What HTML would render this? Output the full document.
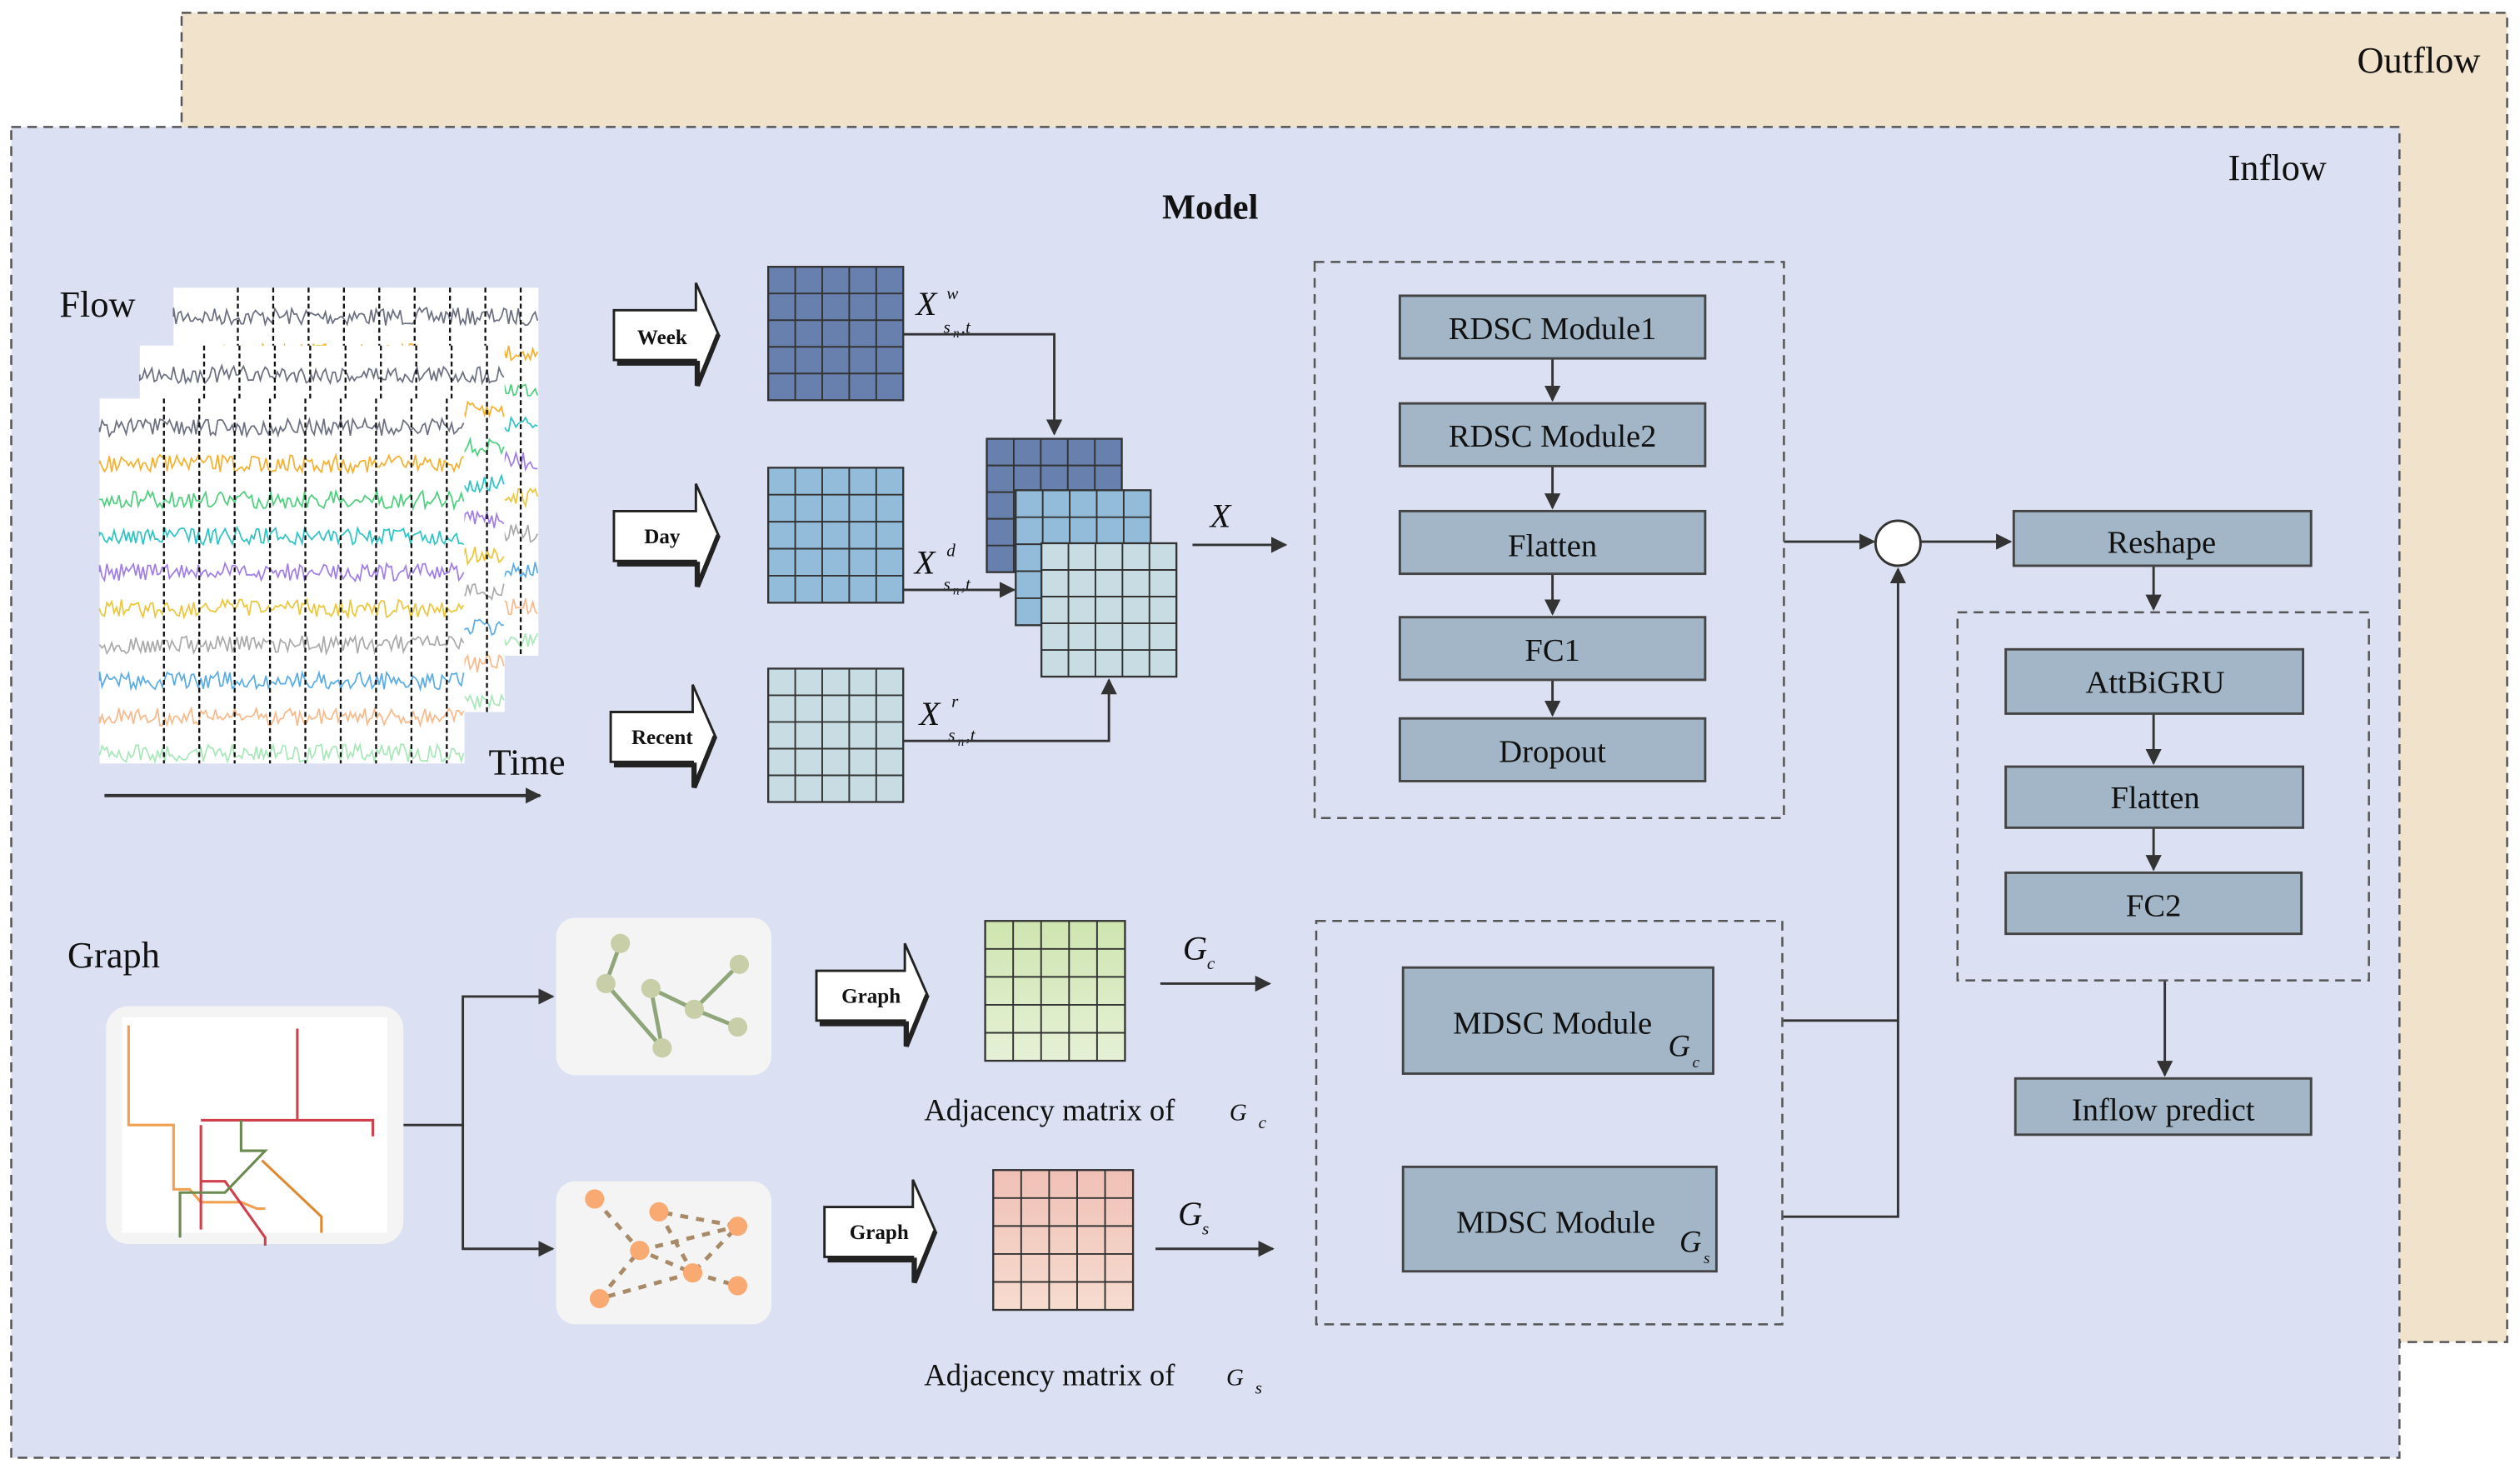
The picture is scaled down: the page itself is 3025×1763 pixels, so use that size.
<!DOCTYPE html>
<html><head><meta charset="utf-8"><style>
html,body{margin:0;padding:0;background:#fff;}
svg{display:block;}
svg, svg text, svg tspan{font-family:"Liberation Serif",serif;}
text{fill:#111;}
</style></head><body>
<svg id="s" width="3025" height="1763" viewBox="0 0 1568 914" preserveAspectRatio="none" xmlns="http://www.w3.org/2000/svg" font-family="Liberation Serif, serif">
<defs>
<marker id="a" markerWidth="10" markerHeight="10" refX="9" refY="5" orient="auto" markerUnits="userSpaceOnUse"><path d="M0,0 L10,5 L0,10 z" fill="#333"/></marker>
</defs>
<rect x="0" y="0" width="1568" height="914" fill="#fff"/>
<rect x="113" y="8" width="1447" height="827" fill="#f1e2cc" stroke="#555" stroke-dasharray="6,4" stroke-width="1.3"/>
<text x="1505" y="45" font-size="23" text-anchor="middle">Outflow</text>
<rect x="7" y="79" width="1486" height="828" fill="#dbe1f2" stroke="#555" stroke-dasharray="6,4" stroke-width="1.3"/>
<text x="1417" y="112" font-size="23" text-anchor="middle">Inflow</text>
<text x="753" y="136" font-size="22" font-weight="bold" text-anchor="middle">Model</text>
<text x="37" y="197" font-size="23">Flow</text>
<text x="304" y="482" font-size="23">Time</text>
<line x1="65" y1="495" x2="336" y2="495" stroke="#333" stroke-width="2" marker-end="url(#a)"/>
<g id="flow"></g>

<g fill="#fff" stroke="#222" stroke-width="1.5">
<path d="M382,193 H433 V176 L447,208 L433,240 V224 H382 z"/>
<path d="M382,318 H433 V301 L447,333 L433,365 V349 H382 z"/>
<path d="M380,443 H431 V426 L445,458 L431,490 V474 H380 z"/>
<path d="M508,604 H563 V587 L577,619 L563,651 V635 H508 z"/>
<path d="M513,751 H568 V734 L582,766 L568,798 V782 H513 z"/>
</g>
<path d="M384,226 H434 V240 L447,208" fill="none" stroke="#222" stroke-width="3"/>
<path d="M384,351 H434 V365 L447,333" fill="none" stroke="#222" stroke-width="3"/>
<path d="M382,476 H432 V490 L445,458" fill="none" stroke="#222" stroke-width="3"/>
<path d="M510,637 H564 V651 L577,619" fill="none" stroke="#222" stroke-width="3"/>
<path d="M515,784 H569 V798 L582,766" fill="none" stroke="#222" stroke-width="3"/>
<g font-size="13" font-weight="bold" text-anchor="middle">
<text x="412" y="214">Week</text><text x="412" y="338">Day</text><text x="412" y="463">Recent</text>
<text x="542" y="624">Graph</text><text x="547" y="771">Graph</text>
</g>
<g id="mats"></g>

<g font-style="italic">
<text x="570" y="196" font-size="21">X</text><text x="589" y="186" font-size="11">w</text><text x="587" y="207" font-size="11">s</text><text x="593" y="210" font-size="8">n</text><text x="598" y="207" font-size="11">,t</text>
<text x="569" y="357" font-size="21">X</text><text x="589" y="346" font-size="11">d</text><text x="587" y="367" font-size="11">s</text><text x="593" y="370" font-size="8">n</text><text x="598" y="367" font-size="11">,t</text>
<text x="572" y="451" font-size="21">X</text><text x="592" y="440" font-size="11">r</text><text x="590" y="461" font-size="11">s</text><text x="596" y="464" font-size="8">n</text><text x="601" y="461" font-size="11">,t</text>
<text x="753" y="328" font-size="21">X</text>
<text x="736" y="597" font-size="21">G</text><text x="751" y="603" font-size="11">c</text>
<text x="733" y="762" font-size="21">G</text><text x="748" y="768" font-size="11">s</text>
</g>
<g stroke="#333" stroke-width="1.5" fill="none">
<path d="M562,208 H656 V270" marker-end="url(#a)"/>
<path d="M562,367 H631" marker-end="url(#a)"/>
<path d="M562,461 H690 V423" marker-end="url(#a)"/>
<path d="M742,339 H800" marker-end="url(#a)"/>
<path d="M722,612 H790" marker-end="url(#a)"/>
<path d="M719,777 H792" marker-end="url(#a)"/>
<path d="M251,700 H288 V620 H344" marker-end="url(#a)"/>
<path d="M288,700 V777 H344" marker-end="url(#a)"/>
<path d="M1110,337 H1166" marker-end="url(#a)"/>
<path d="M1195,337 H1251" marker-end="url(#a)"/>
<path d="M1340,352 V379" marker-end="url(#a)"/>
<path d="M1109,635 H1181"/>
<path d="M1109,757 H1181 V354" marker-end="url(#a)"/>
<path d="M1347,610 V669" marker-end="url(#a)"/>
<path d="M966,223 V249" marker-end="url(#a)"/>
<path d="M966,290 V316" marker-end="url(#a)"/>
<path d="M966,357 V382" marker-end="url(#a)"/>
<path d="M966,423 V445" marker-end="url(#a)"/>
<path d="M1340,444 V475" marker-end="url(#a)"/>
<path d="M1340,515 V541" marker-end="url(#a)"/>
</g>
<circle cx="1181" cy="338" r="14" fill="#fff" stroke="#333" stroke-width="1.5"/>

<g fill="none" stroke="#555" stroke-dasharray="6,4" stroke-width="1.3">
<rect x="818" y="163" width="292" height="346"/>
<rect x="1218" y="381" width="256" height="229"/>
<rect x="819" y="573" width="290" height="251"/>
</g>
<g fill="#a2b6c7" stroke="#444" stroke-width="1.5">
<rect x="871" y="184" width="190" height="39"/>
<rect x="871" y="251" width="190" height="39"/>
<rect x="871" y="318" width="190" height="39"/>
<rect x="871" y="384" width="190" height="39"/>
<rect x="871" y="447" width="190" height="39"/>
<rect x="1253" y="318" width="185" height="34"/>
<rect x="1248" y="404" width="185" height="40"/>
<rect x="1248" y="477" width="185" height="38"/>
<rect x="1248" y="543" width="184" height="38"/>
<rect x="1254" y="671" width="184" height="35"/>
<rect x="873" y="602" width="193" height="66"/>
<rect x="873" y="726" width="195" height="65"/>
</g>
<g font-size="20" text-anchor="middle">
<text x="966" y="211">RDSC Module1</text>
<text x="966" y="278">RDSC Module2</text>
<text x="966" y="346">Flatten</text>
<text x="966" y="411">FC1</text>
<text x="966" y="474">Dropout</text>
<text x="1345" y="344">Reshape</text>
<text x="1341" y="431">AttBiGRU</text>
<text x="1341" y="503">Flatten</text>
<text x="1340" y="570">FC2</text>
<text x="1346" y="697">Inflow predict</text>
<text x="966" y="643">MDSC Module</text>
<text x="968" y="767">MDSC Module</text>
</g>
<g font-style="italic"><text x="1038" y="657" font-size="19">G</text><text x="1053" y="664" font-size="10">c</text>
<text x="1045" y="779" font-size="19">G</text><text x="1060" y="786" font-size="10">s</text></g>
<text x="575" y="697" font-size="19">Adjacency matrix of</text><text x="765" y="697" font-size="15" font-style="italic">G</text><text x="783" y="702" font-size="11" font-style="italic">c</text>
<text x="575" y="862" font-size="19">Adjacency matrix of</text><text x="763" y="862" font-size="15" font-style="italic">G</text><text x="781" y="867" font-size="11" font-style="italic">s</text>

<text x="42" y="602" font-size="23">Graph</text>
<rect x="66" y="626" width="185" height="148" rx="14" fill="#f4f4f4"/>
<rect x="76" y="633" width="165" height="134" fill="#fff"/>
<g fill="none" stroke-width="1.6">
<path d="M80,638 V700 H108 V740 H118 L125,748 H150 L160,752 H165" stroke="#f0a050"/>
<path d="M125,700 V765 M125,735 H140 L165,770 V775" stroke="#d0404a"/>
<path d="M125,697 H232 V707 M185,640 V697" stroke="#d0404a"/>
<path d="M150,697 V716 H165 L140,742 H112 V770" stroke="#6b8a50"/>
<path d="M163,722 L200,757 V767" stroke="#e08a30"/>
</g>
<rect x="346" y="571" width="134" height="98" rx="12" fill="#f4f4f4"/>
<g stroke="#8fa57a" stroke-width="2.5" fill="none"><path d="M386,587 L377,612 L412,652 L405,615 L432,628 L460,600 M432,628 L459,639"/></g>
<g fill="#c8cfa8"><circle cx="386" cy="587" r="6"/><circle cx="377" cy="612" r="6"/><circle cx="412" cy="652" r="6"/><circle cx="405" cy="615" r="6"/><circle cx="432" cy="628" r="6"/><circle cx="460" cy="600" r="6"/><circle cx="459" cy="639" r="6"/></g>
<rect x="346" y="735" width="134" height="89" rx="12" fill="#f4f4f4"/>
<g stroke="#a88a68" stroke-width="2.5" stroke-dasharray="5,5" fill="none"><path d="M370,746 L398,778 L431,792 L459,763 L410,754 M398,778 L459,763 M410,754 L431,792 M431,792 L459,800 M431,792 L373,808 L398,778"/></g>
<g fill="#f8aa72"><circle cx="370" cy="746" r="6"/><circle cx="410" cy="754" r="6"/><circle cx="459" cy="763" r="6"/><circle cx="398" cy="778" r="6"/><circle cx="431" cy="792" r="6"/><circle cx="459" cy="800" r="6"/><circle cx="373" cy="808" r="6"/></g>
</svg>
<script>
var NS="http://www.w3.org/2000/svg";
function el(p,t,a){var e=document.createElementNS(NS,t);for(var k in a)e.setAttribute(k,a[k]);p.appendChild(e);return e;}
var seed=7;function r(){seed=(seed*16807)%2147483647;return seed/2147483647;}
var f=document.getElementById("flow");
var cols=["#6b6f80","#f5b02e","#4cd07d","#2ec4c4","#a07de8","#ecc63a","#aaaaaa","#5aace8","#f9b98a","#a8e8b8"];
function panel(x0,y0,x1,y1,dx){
 el(f,"rect",{x:x0,y:y0,width:x1-x0,height:y1-y0,fill:"#fff"});
 for(var i=0;i<10;i++){var y=y0+18+i*22.5;if(y>y1-5)break;var d="M"+x0+","+y;
  for(var x=x0;x<=x1;x+=1.5){d+=" L"+x+","+(y+(r()-0.5)*11).toFixed(1);}
  el(f,"path",{d:d,fill:"none",stroke:cols[i],"stroke-width":0.9});}
 for(var x=x0+dx;x<x1;x+=22){el(f,"line",{x1:x,y1:y0,x2:x,y2:y1,stroke:"#111","stroke-dasharray":"3,2","stroke-width":1.2});}
}
panel(108,179,335,408,40);
panel(87,215,314,443,40);
panel(62,248,289,475,40);
var m=document.getElementById("mats");
function mat(x,y,w,h,fill,grad){
 var fl=fill;
 if(grad){var g=el(document.querySelector("defs"),"linearGradient",{id:grad.id,x1:0,y1:0,x2:0,y2:1});
  el(g,"stop",{offset:0,"stop-color":grad.a});el(g,"stop",{offset:1,"stop-color":grad.b});fl="url(#"+grad.id+")";}
 el(m,"rect",{x:x,y:y,width:w,height:h,fill:fl,stroke:"#333","stroke-width":1.2});
 for(var i=1;i<5;i++){el(m,"line",{x1:x+w*i/5,y1:y,x2:x+w*i/5,y2:y+h,stroke:"#333","stroke-width":1});
  el(m,"line",{x1:x,y1:y+h*i/5,x2:x+w,y2:y+h*i/5,stroke:"#333","stroke-width":1});}
}
mat(478,166,84,83,"#6780ae");
mat(478,291,84,84,"#92bcd9");
mat(478,416,84,83,"#c8dde3");
mat(614,273,84,83,"#6780ae");
mat(632,305,84,84,"#92bcd9");
mat(648,338,84,83,"#c8dde3");
mat(613,573,87,87,"",{id:"g1",a:"#cfe5b0",b:"#e5f1d6"});
mat(618,728,87,87,"",{id:"g2",a:"#f0c0b6",b:"#f6dccf"});
</script>
</body></html>
